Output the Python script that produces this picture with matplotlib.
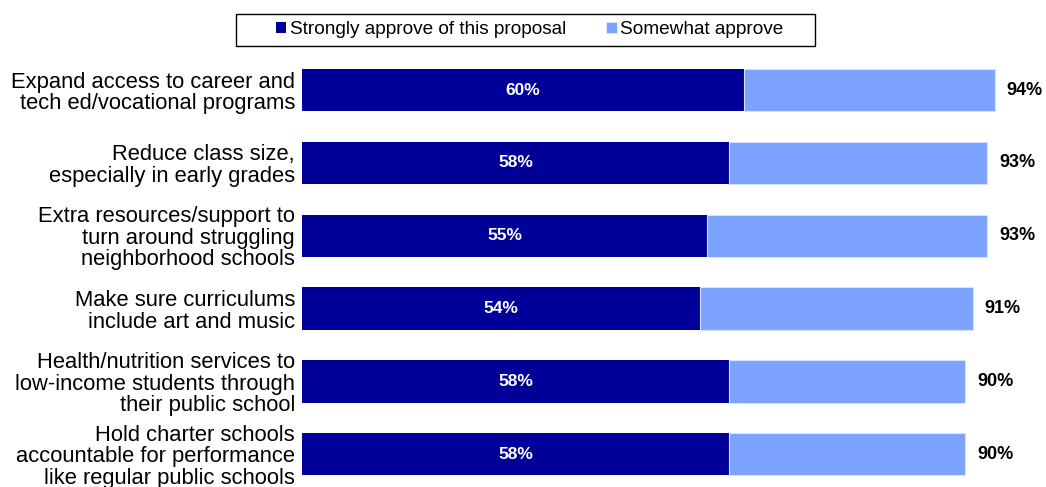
import numpy as np
import matplotlib.pyplot as plt
from matplotlib.patches import Rectangle

plt.rcParams['font.family'] = ['Liberation Sans', 'DejaVu Sans']

# proposals, top to bottom
proposals = [
    "Expand access to career and\ntech ed/vocational programs",
    "Reduce class size,\nespecially in early grades",
    "Extra resources/support to\nturn around struggling\nneighborhood schools",
    "Make sure curriculums\ninclude art and music",
    "Health/nutrition services to\nlow-income students through\ntheir public school",
    "Hold charter schools\naccountable for performance\nlike regular public schools",
]
strongly = [60, 58, 55, 54, 58, 58]
total = [94, 93, 93, 91, 90, 90]
somewhat = [t - s for t, s in zip(total, strongly)]

dark = "#000099"
light = "#7BA3FF"

W, H = 1046, 487
fig = plt.figure(figsize=(W / 100, H / 100), dpi=100)
ax = fig.add_axes([302 / W, 0, 737 / W, 433.4 / H])

y = np.arange(len(proposals))
b1 = ax.barh(y, strongly, height=0.58, color=dark, label="Strongly approve of this proposal")
b2 = ax.barh(y, somewhat, left=strongly, height=0.58, color=light,
             edgecolor="#D6E2FF", linewidth=0.8, label="Somewhat approve")

for i in range(len(y)):
    ax.text(strongly[i] / 2, y[i], f"{strongly[i]}%", ha="center", va="center",
            color="white", fontsize=12.5, fontweight="bold")
    ax.text(total[i] + 1.6, y[i], f"{total[i]}%", ha="left", va="center",
            color="black", fontsize=13, fontweight="bold")

ax.set_xlim(0, 100)
ax.set_ylim(5.45, -0.5)
ax.set_yticks(y)
ax.set_yticklabels(proposals, fontsize=15.8, linespacing=1.03)
ax.tick_params(axis="y", length=0, pad=5)
ax.set_xticks([])
for s in ax.spines.values():
    s.set_visible(False)

# legend without its own frame, box drawn separately
leg = fig.legend(handles=[b1, b2], loc="center", bbox_to_anchor=(530 / W, 1 - 30 / H),
                 ncol=2, fontsize=13.7, frameon=False,
                 handlelength=0.53, handleheight=0.53, handletextpad=0.2, columnspacing=2.1)
fig.patches.append(Rectangle((236 / W, 1 - 46 / H), (815 - 236) / W, 32 / H,
                             transform=fig.transFigure, fill=False,
                             edgecolor="black", linewidth=1.0))

fig.savefig("out.png", dpi=100)
